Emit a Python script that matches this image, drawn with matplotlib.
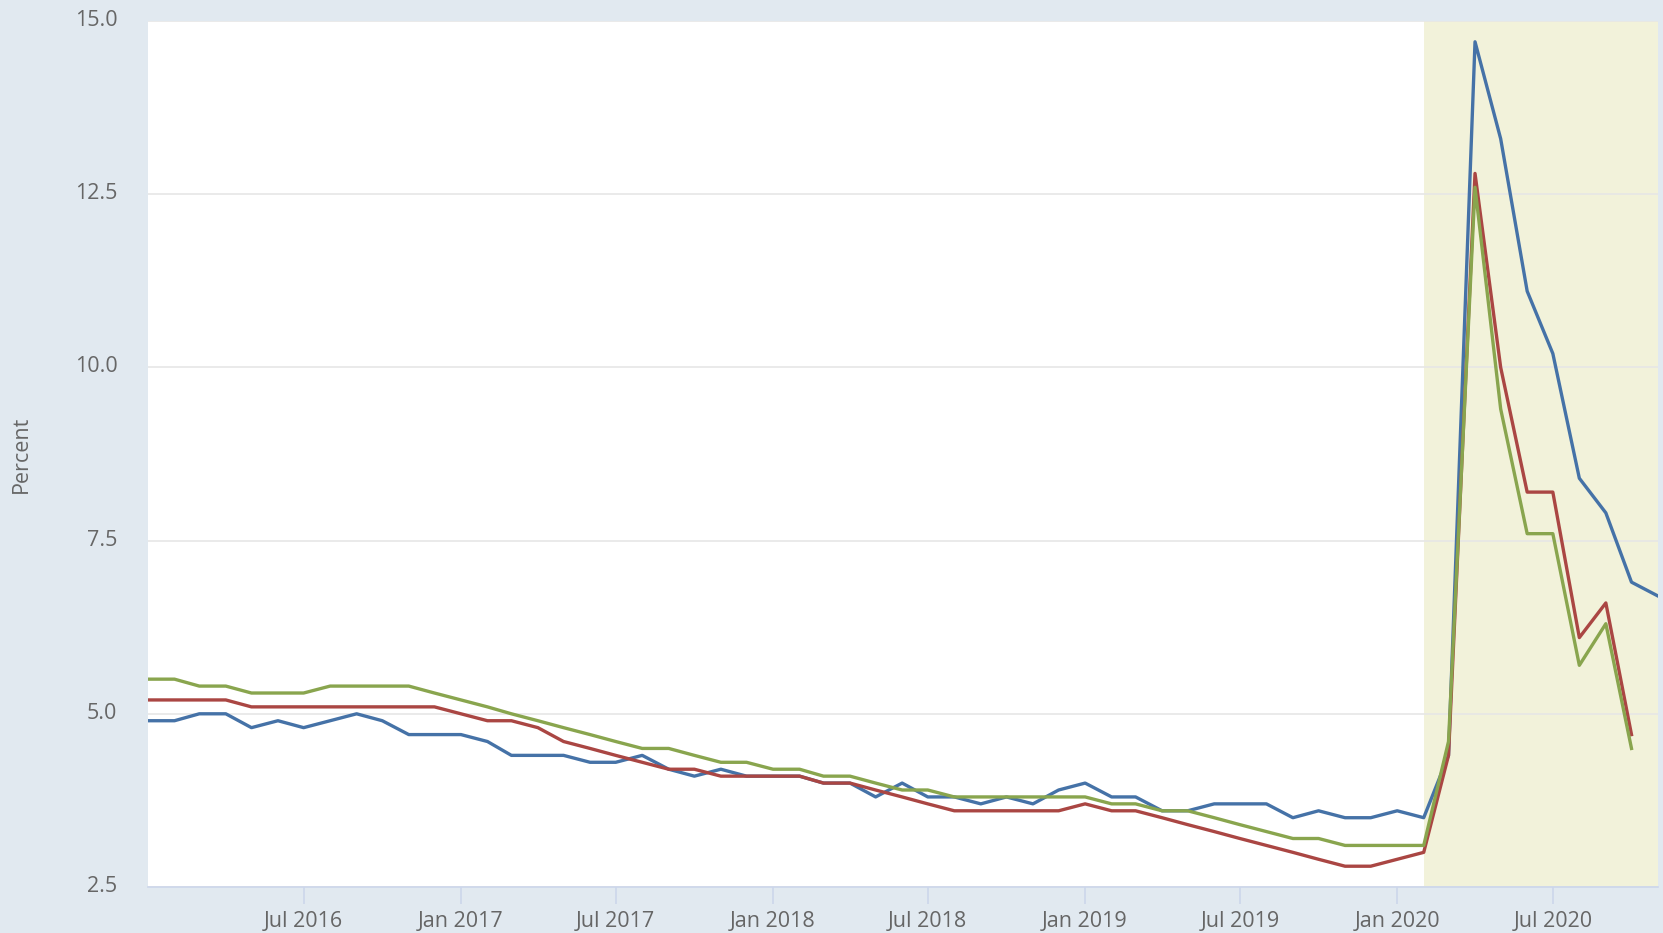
import matplotlib
matplotlib.use("Agg")
import matplotlib.pyplot as plt
import matplotlib.dates as mdates
import matplotlib.transforms as mtransforms
import pandas as pd

# monthly values, Jan 2016 onwards
dates = pd.date_range("2016-01-01", periods=59, freq="MS")

blue = [4.9, 4.9, 5.0, 5.0, 4.8, 4.9, 4.8, 4.9, 5.0, 4.9, 4.7, 4.7,
        4.7, 4.6, 4.4, 4.4, 4.4, 4.3, 4.3, 4.4, 4.2, 4.1, 4.2, 4.1,
        4.1, 4.1, 4.0, 4.0, 3.8, 4.0, 3.8, 3.8, 3.7, 3.8, 3.7, 3.9,
        4.0, 3.8, 3.8, 3.6, 3.6, 3.7, 3.7, 3.7, 3.5, 3.6, 3.5, 3.5,
        3.6, 3.5, 4.4, 14.7, 13.3, 11.1, 10.2, 8.4, 7.9, 6.9, 6.7]

red = [5.2, 5.2, 5.2, 5.2, 5.1, 5.1, 5.1, 5.1, 5.1, 5.1, 5.1, 5.1,
       5.0, 4.9, 4.9, 4.8, 4.6, 4.5, 4.4, 4.3, 4.2, 4.2, 4.1, 4.1,
       4.1, 4.1, 4.0, 4.0, 3.9, 3.8, 3.7, 3.6, 3.6, 3.6, 3.6, 3.6,
       3.7, 3.6, 3.6, 3.5, 3.4, 3.3, 3.2, 3.1, 3.0, 2.9, 2.8, 2.8,
       2.9, 3.0, 4.4, 12.8, 10.0, 8.2, 8.2, 6.1, 6.6, 4.7]

green = [5.5, 5.5, 5.4, 5.4, 5.3, 5.3, 5.3, 5.4, 5.4, 5.4, 5.4, 5.3,
         5.2, 5.1, 5.0, 4.9, 4.8, 4.7, 4.6, 4.5, 4.5, 4.4, 4.3, 4.3,
         4.2, 4.2, 4.1, 4.1, 4.0, 3.9, 3.9, 3.8, 3.8, 3.8, 3.8, 3.8,
         3.8, 3.7, 3.7, 3.6, 3.6, 3.5, 3.4, 3.3, 3.2, 3.2, 3.1, 3.1,
         3.1, 3.1, 4.6, 12.6, 9.4, 7.6, 7.6, 5.7, 6.3, 4.5]

yticks = [2.5, 5.0, 7.5, 10.0, 12.5, 15.0]
recession_start = "2020-02-01"

plt.rcParams["font.family"] = ["Open Sans", "DejaVu Sans"]

fig = plt.figure(figsize=(16.63, 9.33), dpi=100, facecolor="#e1e9f0")
ax = fig.add_axes([148 / 1663, 1 - 887 / 933, 1510 / 1663, 866 / 933])
ax.set_facecolor("white")

ax.axvspan(pd.Timestamp(recession_start), dates[-1], color="#f2f2da", zorder=0, lw=0)

ax.plot(dates, blue, color="#4572a7", lw=2.4, zorder=3)
ax.plot(dates[:len(red)], red, color="#aa4643", lw=2.4, zorder=3)
ax.plot(dates[:len(green)], green, color="#89a54e", lw=2.4, zorder=3)

ax.set_xlim(dates[0], dates[-1])
ax.set_ylim(2.5, 15.0)
ax.set_yticks(yticks)
ax.set_yticklabels([f"{v:.1f}" for v in yticks])
ax.grid(axis="y", color="#e6e6e6", lw=1.2, zorder=1)

ax.xaxis.set_major_locator(mdates.MonthLocator(bymonth=[1, 7]))
ax.xaxis.set_major_formatter(mdates.DateFormatter("%b %Y"))
ax.set_xticks([d for d in ax.get_xticks() if d > mdates.date2num(dates[0])])

for s in ["top", "right", "left"]:
    ax.spines[s].set_visible(False)
ax.spines["bottom"].set_color("#ccd6eb")
ax.spines["bottom"].set_linewidth(1.2)

ax.tick_params(axis="y", length=0, pad=22, labelsize=15.5, labelcolor="#666666")
ax.tick_params(axis="x", length=12, width=1.2, color="#ccd6eb", pad=5,
               labelsize=15.5, labelcolor="#666666")

# labels sit a touch above their gridlines
shift = mtransforms.ScaledTranslation(0, 0.03, fig.dpi_scale_trans)
for lab in ax.get_yticklabels():
    lab.set_transform(lab.get_transform() + shift)

ax.set_ylabel("Percent", fontsize=15.5, color="#666666")
ax.yaxis.set_label_coords(-0.0768, 0.5)

fig.savefig("out.png", dpi=100, facecolor=fig.get_facecolor())
